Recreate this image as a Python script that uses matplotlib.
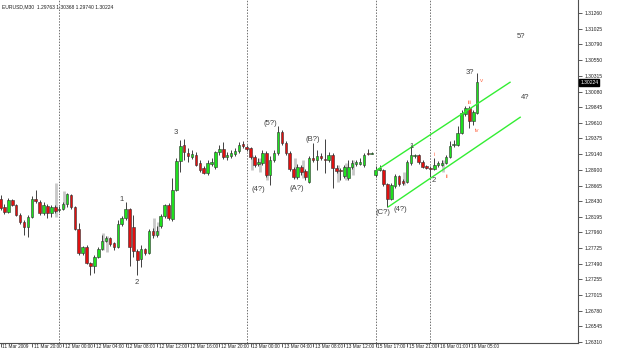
import numpy as np
import matplotlib
matplotlib.use("Agg")
import matplotlib.pyplot as plt
import matplotlib.transforms as mtrans

plt.rcParams["font.family"] = ["Liberation Sans", "DejaVu Sans"]

# --- Daten (EURUSD M30) ---
opens = [1.28463, 1.28343, 1.28267, 1.28448, 1.28373, 1.28222, 1.28117, 1.28041, 1.28192, 1.28463,
         1.28418, 1.28252, 1.28358, 1.28252, 1.28343, 1.28297, 1.28312, 1.28388, 1.28523, 1.28343,
         1.28011, 1.27650, 1.27740, 1.27499, 1.27454, 1.27590, 1.27710, 1.27831, 1.27876, 1.27800,
         1.27740, 1.28087, 1.28177, 1.28312, 1.28041, 1.27680, 1.27559, 1.27710, 1.27650, 1.27981,
         1.27921, 1.28056, 1.28207, 1.28373, 1.28162, 1.28599, 1.29035, 1.29276, 1.29156, 1.29096,
         1.29126, 1.29005, 1.28930, 1.28855, 1.28990, 1.28945, 1.29171, 1.29216, 1.29096, 1.29111,
         1.29141, 1.29186, 1.29291, 1.29246, 1.29231, 1.29096, 1.28990, 1.29005, 1.29156, 1.28825,
         1.29050, 1.29156, 1.29472, 1.29306, 1.29156, 1.28915, 1.28794, 1.28945, 1.28885, 1.28719,
         1.29081, 1.29050, 1.29111, 1.29065, 1.29050, 1.29126, 1.28930, 1.28900, 1.28809, 1.28779,
         1.28945, 1.28990, 1.28990, 1.28975, 1.29156, 1.29141, 1.28825, 1.28900, 1.28900, 1.28689,
         1.28463, 1.28659, 1.28809, 1.28734, 1.28719, 1.29005, 1.29111, 1.29126, 1.29020, 1.28960,
         1.28930, 1.28915, 1.28975, 1.28975, 1.29005, 1.29096, 1.29276, 1.29276, 1.29457, 1.29743,
         1.29833, 1.29638, 1.29763]
highs = [1.28523, 1.28388, 1.28478, 1.28463, 1.28388, 1.28252, 1.28147, 1.28222, 1.28508, 1.28599,
         1.28448, 1.28418, 1.28388, 1.28373, 1.28373, 1.28358, 1.28418, 1.28554, 1.28538, 1.28358,
         1.28102, 1.27755, 1.27770, 1.27514, 1.27620, 1.27740, 1.27921, 1.27906, 1.27891, 1.27815,
         1.28147, 1.28207, 1.28418, 1.28328, 1.28222, 1.27710, 1.27770, 1.27725, 1.28011, 1.28026,
         1.28056, 1.28237, 1.28388, 1.28403, 1.28779, 1.29081, 1.29352, 1.29367, 1.29231, 1.29201,
         1.29171, 1.29050, 1.28960, 1.29050, 1.29081, 1.29186, 1.29276, 1.29321, 1.29171, 1.29201,
         1.29231, 1.29321, 1.29337, 1.29276, 1.29246, 1.29126, 1.29081, 1.29201, 1.29186, 1.29111,
         1.29201, 1.29562, 1.29502, 1.29337, 1.29186, 1.28945, 1.28990, 1.28975, 1.28915, 1.29111,
         1.29306, 1.29201, 1.29156, 1.29367, 1.29171, 1.29156, 1.28975, 1.28930, 1.28975, 1.29050,
         1.29050, 1.29050, 1.29081, 1.29156, 1.29216, 1.29171, 1.28960, 1.28975, 1.28915, 1.28704,
         1.28704, 1.28840, 1.28825, 1.28764, 1.29050, 1.29276, 1.29141, 1.29141, 1.29050, 1.28975,
         1.28960, 1.29081, 1.29035, 1.29050, 1.29126, 1.29337, 1.29352, 1.29562, 1.29803, 1.29864,
         1.29864, 1.29803, 1.30368]
lows = [1.28297, 1.28237, 1.28252, 1.28358, 1.28207, 1.28087, 1.27921, 1.27891, 1.28177, 1.28403,
        1.28222, 1.28222, 1.28177, 1.28192, 1.28252, 1.28267, 1.28297, 1.28343, 1.28312, 1.27996,
        1.27620, 1.27620, 1.27484, 1.27318, 1.27349, 1.27575, 1.27695, 1.27815, 1.27755, 1.27695,
        1.27725, 1.28056, 1.28147, 1.27454, 1.27590, 1.27318, 1.27439, 1.27620, 1.27635, 1.27876,
        1.27891, 1.28026, 1.28177, 1.28147, 1.28132, 1.28584, 1.28870, 1.29050, 1.29020, 1.29065,
        1.28960, 1.28870, 1.28840, 1.28825, 1.28960, 1.28915, 1.29126, 1.29065, 1.29050, 1.29081,
        1.29111, 1.29156, 1.29231, 1.29186, 1.29065, 1.28945, 1.28960, 1.28975, 1.28794, 1.28674,
        1.29020, 1.29126, 1.29276, 1.29126, 1.28885, 1.28764, 1.28764, 1.28825, 1.28749, 1.28704,
        1.29020, 1.28900, 1.29050, 1.28855, 1.29020, 1.28629, 1.28855, 1.28749, 1.28779, 1.28749,
        1.28915, 1.28960, 1.28975, 1.28945, 1.29126, 1.29141, 1.28794, 1.28885, 1.28659, 1.28343,
        1.28448, 1.28629, 1.28659, 1.28674, 1.28704, 1.28975, 1.29081, 1.28990, 1.28930, 1.28915,
        1.28794, 1.28900, 1.28945, 1.28960, 1.28990, 1.29081, 1.29246, 1.29261, 1.29442, 1.29713,
        1.29532, 1.29578, 1.29740]
closes = [1.28328, 1.28267, 1.28448, 1.28373, 1.28222, 1.28117, 1.28041, 1.28192, 1.28463, 1.28433,
          1.28252, 1.28373, 1.28252, 1.28343, 1.28282, 1.28312, 1.28388, 1.28538, 1.28343, 1.28011,
          1.27650, 1.27740, 1.27499, 1.27454, 1.27590, 1.27710, 1.27831, 1.27876, 1.27785, 1.27740,
          1.28087, 1.28177, 1.28312, 1.27740, 1.27680, 1.27544, 1.27710, 1.27650, 1.27981, 1.27921,
          1.27981, 1.28207, 1.28373, 1.28177, 1.28599, 1.29035, 1.29261, 1.29171, 1.29111, 1.29141,
          1.28975, 1.28900, 1.28855, 1.29005, 1.29020, 1.29171, 1.29216, 1.29096, 1.29126, 1.29156,
          1.29186, 1.29276, 1.29261, 1.29216, 1.29096, 1.28975, 1.29020, 1.29156, 1.28825, 1.29050,
          1.29156, 1.29472, 1.29306, 1.29156, 1.28915, 1.28794, 1.28945, 1.28870, 1.28794, 1.29081,
          1.29050, 1.29111, 1.29081, 1.29050, 1.29126, 1.28930, 1.28885, 1.28885, 1.28945, 1.28945,
          1.29005, 1.29020, 1.29020, 1.29126, 1.29141, 1.29156, 1.28900, 1.28930, 1.28689, 1.28463,
          1.28674, 1.28809, 1.28689, 1.28704, 1.29020, 1.29126, 1.29118, 1.29020, 1.28945, 1.28930,
          1.28915, 1.28975, 1.29005, 1.29005, 1.29096, 1.29261, 1.29284, 1.29457, 1.29758, 1.29833,
          1.29638, 1.29773, 1.30224]

# graue "Schatten"-Balken (zweiter Datenfeed), bar / oben / unten
ghost_bars = [14.2, 16.2, 26.3, 27.3, 39.3, 40.3, 64.3, 66.3, 68.3, 75.3, 77.3, 86.3, 88.3, 90.3,
              103.3, 113.3]
ghost_top = [1.28704, 1.28584, 1.27951, 1.27906, 1.28177, 1.28117, 1.29126, 1.29081, 1.29050,
             1.29081, 1.29050, 1.28975, 1.29005, 1.29050, 1.28870, 1.29050]
ghost_bot = [1.28192, 1.28328, 1.27695, 1.27665, 1.27906, 1.27921, 1.28900, 1.28870, 1.28749,
             1.28779, 1.28779, 1.28719, 1.28749, 1.28825, 1.28674, 1.28870]

tick_bars = list(range(0, 121, 8))
tick_labels = ["11 Mar 2009", "11 Mar 20:00", "12 Mar 00:00", "12 Mar 04:00", "12 Mar 08:00",
               "12 Mar 12:00", "12 Mar 16:00", "12 Mar 20:00", "13 Mar 00:00", "13 Mar 04:00",
               "13 Mar 08:00", "13 Mar 12:00", "15 Mar 17:00", "15 Mar 21:00", "16 Mar 01:00",
               "16 Mar 05:00"]
price_ticks = [1.31260, 1.31025, 1.30790, 1.30550, 1.30315, 1.30080, 1.29845, 1.29610, 1.29375,
               1.29140, 1.28900, 1.28665, 1.28430, 1.28195, 1.27960, 1.27725, 1.27490, 1.27255,
               1.27015, 1.26780, 1.26545, 1.26310]
sep_bars = [15, 63, 96, 110]   # Tagestrenner

# Wellen-Beschriftungen (bar, preis, text)
wave_bars = [44.9, 31.1, 34.9, 69.0, 65.9, 75.9, 80.0, 105.1, 110.9, 97.9, 102.3, 120.2, 134.3, 133.2]
wave_prices = [1.29457, 1.28448, 1.27198, 1.29593, 1.28599, 1.28614, 1.29352, 1.29261, 1.28734,
               1.28252, 1.28312, 1.30361, 1.29999, 1.30903]
wave_texts = ["3", "1", "2", "(5?)", "(4?)", "(A?)", "(B?)", "1", "2", "(C?)", "(4?)", "3?", "4?", "5?"]
sub_bars = [110.9, 114.3, 120.2, 122.0, 123.2]
sub_prices = [1.29126, 1.28809, 1.29909, 1.29487, 1.30255]
sub_texts = ["i", "ii", "iii", "iv", "v"]

# Trendkanal
chan_upper_x = [96.3, 130.4]
chan_upper_y = [1.28900, 1.30221]
chan_lower_x = [99.3, 133.0]
chan_lower_y = [1.28347, 1.29694]

# --- Plot ---
fig = plt.figure(figsize=(6.25, 3.52), dpi=100)
ax = fig.add_axes([0.0, 9 / 352, 578 / 625, 343 / 352])

o = np.array(opens); h = np.array(highs); l = np.array(lows); c = np.array(closes)
x = np.arange(len(o))
up = c >= o

ax.vlines(ghost_bars, ghost_bot, ghost_top, color="#c8c8c8", lw=2.0, zorder=1.5)

ax.vlines(x, l, h, color="#404040", lw=0.7, zorder=2)
body_bot = np.minimum(o, c)
body_h = np.maximum(np.abs(c - o), 0.00006)
ax.bar(x[up], body_h[up], bottom=body_bot[up], width=0.65, color="#1ee01e",
       edgecolor="#303030", linewidth=0.4, zorder=3)
ax.bar(x[~up], body_h[~up], bottom=body_bot[~up], width=0.65, color="#e01010",
       edgecolor="#303030", linewidth=0.4, zorder=3)

for s in sep_bars:
    ax.axvline(s, color="#707070", lw=0.7, ls=(0, (1.5, 1.5)), zorder=1)

ax.plot(chan_upper_x, chan_upper_y, color="#33ee33", lw=1.0, zorder=4)
ax.plot(chan_lower_x, chan_lower_y, color="#33ee33", lw=1.0, zorder=4)

for bx, py, t in zip(wave_bars, wave_prices, wave_texts):
    ax.text(bx, py, t, fontsize=5.5, color="#404040", ha="center", va="center", zorder=5)
for bx, py, t in zip(sub_bars, sub_prices, sub_texts):
    ax.text(bx, py, t, fontsize=4.5, color="#ff7050", ha="center", va="center", zorder=5)

ax.set_xlim(-0.15, 147.8)
ax.set_ylim(1.26294, 1.31460)

ax.set_xticks(tick_bars)
ax.set_xticklabels(tick_labels, fontsize=3.4, ha="left")
ax.set_yticks(price_ticks)
ax.set_yticklabels([f"{p:.5f}" for p in price_ticks], fontsize=3.6)
ax.yaxis.tick_right()
ax.tick_params(axis="both", length=3, width=0.6, color="#404040", labelcolor="#202020")
ax.tick_params(axis="y", pad=1.5)
ax.tick_params(axis="x", pad=-2.0)
offset = mtrans.ScaledTranslation(1.2 / 72, 0, fig.dpi_scale_trans)
for lab in ax.get_xticklabels():
    lab.set_transform(lab.get_transform() + offset)

for side in ["top", "left"]:
    ax.spines[side].set_visible(False)
for side in ["right", "bottom"]:
    ax.spines[side].set_color("#505050")
    ax.spines[side].set_linewidth(0.8)

# aktueller Kurs
ax.text(1.004, (closes[-1] - 1.26294) / (1.31460 - 1.26294), f"{closes[-1]:.5f}",
        transform=ax.transAxes, fontsize=3.6, color="white", va="center", ha="left",
        bbox=dict(boxstyle="square,pad=0.2", fc="black", ec="black"), zorder=6)

fig.text(0.004, 0.988, "EURUSD,M30  1.29763 1.30368 1.29740 1.30224", fontsize=3.6,
         color="#202020", va="top", ha="left")

fig.savefig("out.png", dpi=100, facecolor="white")
